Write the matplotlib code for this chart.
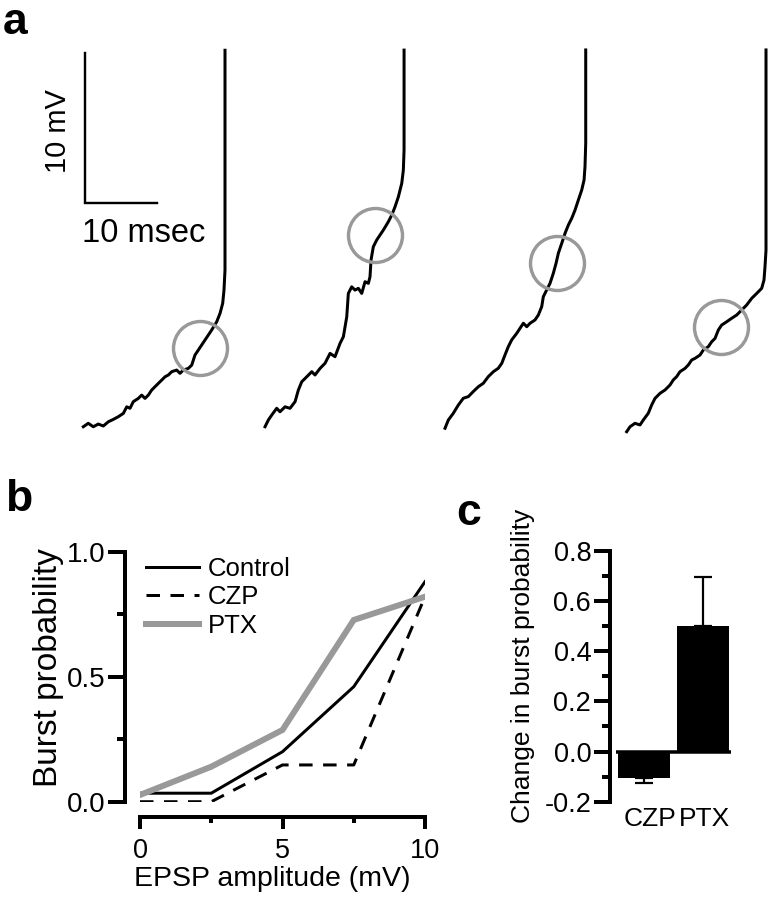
import matplotlib
matplotlib.use("Agg")
import matplotlib.pyplot as plt
import numpy as np

plt.rcParams['font.family'] = ['Liberation Sans', 'DejaVu Sans']

# ---------------- Panel a: voltage traces (time in ms, voltage in mV, relative to trace start)
trace1_t = [0, 0.69, 1.39, 2.08, 2.78, 3.47, 4.17, 4.86, 5.56, 6.03, 6.49, 6.94, 7.64, 8.11, 8.57, 9.03, 9.5,
            9.96, 10.42, 10.89, 11.35, 11.81, 12.28, 12.97, 13.43, 13.89, 14.58, 15.06, 15.51, 15.97, 16.44,
            16.9, 17.36, 17.83, 18.53, 18.99, 19.36, 19.54, 19.68, 19.68]
trace1_v = [0, 0.23, 0, 0.18, 0.05, 0.33, 0.49, 0.67, 0.89, 1.33, 1.23, 1.67, 1.89, 2.11, 1.89, 2.11, 2.45,
            2.67, 2.89, 3.11, 3.33, 3.45, 3.67, 3.78, 3.56, 3.78, 3.89, 4.11, 4.78, 5.11, 5.45,
            5.78, 6.11, 6.45, 7.0, 7.56, 8.23, 9.11, 10.45, 25.1]
trace2_t = [0, 0.46, 0.93, 1.62, 2.08, 2.78, 3.47, 4.17, 4.63, 5.1, 5.79, 6.49, 6.94, 7.64, 8.33, 9.03, 9.72,
            10.42, 10.88, 11.35, 11.57, 12.04, 12.5, 12.96, 13.43, 13.89, 14.35, 14.58, 14.72, 15.04, 15.51,
            15.97, 16.43, 17.13, 17.6, 18.06, 18.52, 18.99, 19.21, 19.31, 19.31]
trace2_v = [0, 0.45, 0.78, 1.23, 1.0, 1.33, 1.23, 1.67, 2.45, 3.0, 3.33, 3.67, 3.45, 3.89, 4.23, 4.89, 4.67,
            5.56, 6.0, 7.33, 8.89, 9.33, 9.11, 9.23, 8.89, 9.67, 9.56, 10.0, 11.11, 12.0, 12.45,
            12.78, 13.11, 13.67, 14.11, 14.67, 15.33, 16.23, 17.11, 18.45, 25.11]
trace3_t = [0, 0.46, 1.15, 1.85, 2.54, 3.24, 3.93, 4.63, 5.32, 6.01, 6.71, 7.40, 7.88, 8.33, 8.79, 9.26, 9.96,
            10.42, 10.88, 11.35, 11.81, 12.5, 12.96, 13.43, 13.65, 14.12, 14.58, 15.04, 15.42, 15.74, 16.21,
            16.67, 17.13, 17.6, 18.06, 18.52, 18.99, 19.31, 19.44, 19.54, 19.54]
trace3_v = [0, 0.55, 1.0, 1.55, 2.0, 2.11, 2.45, 2.77, 3.0, 3.44, 3.77, 4.0, 4.33, 4.89, 5.44, 5.89, 6.33,
            6.67, 7.0, 6.77, 7.0, 7.22, 7.55, 8.11, 8.77, 9.22, 9.66, 10.33, 11.0, 11.67, 12.33,
            13.0, 13.55, 14.0, 14.55, 15.22, 15.89, 16.55, 17.44, 19.0, 25.22]
trace4_t = [0, 0.46, 1.15, 1.85, 2.31, 3.0, 3.47, 3.93, 4.63, 5.32, 6.01, 6.47, 6.94, 7.40, 8.10, 8.56, 9.03,
            9.49, 10.18, 10.65, 11.34, 11.81, 12.27, 12.73, 13.19, 13.89, 14.58, 15.28, 15.97, 16.67, 17.36,
            18.06, 18.75, 19.07, 19.21, 19.35, 19.35]
trace4_v = [0, 0.33, 0.56, 0.45, 0.78, 1.23, 1.78, 2.22, 2.56, 2.78, 3.11, 3.45, 3.67, 4.0, 4.22, 4.45, 4.78,
            4.89, 5.11, 5.45, 5.67, 6.0, 6.22, 6.78, 7.11, 7.33, 7.56, 7.78, 8.11, 8.45, 8.89,
            9.22, 9.56, 10.11, 11.0, 12.11, 25.45]
# EPSP marker (circle) position on each trace, relative to trace start
circle_t = [16.2, 15.28, 15.51, 13.06]
circle_v = [5.23, 12.78, 11.0, 7.0]
scale_v_mV = 10
scale_t_ms = 10

# ---------------- Panel b
epsp_amp = [0, 2.5, 5, 7.5, 10]
control = [0.034, 0.034, 0.20, 0.46, 0.88]
czp = [0.0, 0.0, 0.147, 0.147, 0.82]
ptx = [0.027, 0.14, 0.287, 0.727, 0.82]

# ---------------- Panel c
conditions = ['CZP', 'PTX']
change = [-0.105, 0.50]
change_err = [0.021, 0.195]

fig = plt.figure(figsize=(7.73, 9.0), dpi=100)
PX = 72 / 100.0  # points per pixel

# ---------- Panel a
axa = fig.add_axes([0, 0.5, 1, 0.5])
axa.set_xlim(0, 773 / 7.2)
axa.set_ylim(-30, 0)
axa.axis('off')
offsets_t = [11.57, 36.81, 61.81, 87.04]
offsets_v = [-28.45, -28.45, -28.55, -28.78]
traces = [(trace1_t, trace1_v), (trace2_t, trace2_v), (trace3_t, trace3_v), (trace4_t, trace4_v)]
for i, (tt, vv) in enumerate(traces):
    axa.plot(np.array(tt) + offsets_t[i], np.array(vv) + offsets_v[i], color='black', lw=3.0 * PX,
             solid_joinstyle='round', zorder=2)
    axa.plot(circle_t[i] + offsets_t[i], circle_v[i] + offsets_v[i], marker='o', ms=54 * PX,
             mfc='none', mec='#999999', mew=3.4 * PX, zorder=3)
# scale bar
sb_t0, sb_v0 = 11.8, -13.53
axa.plot([sb_t0, sb_t0, sb_t0 + scale_t_ms], [sb_v0 + scale_v_mV, sb_v0, sb_v0], color='black',
         lw=2.4 * PX, solid_joinstyle='miter')
axa.text(sb_t0 - 3.8, sb_v0 + scale_v_mV / 2 - 0.2, f'{scale_v_mV} mV', rotation=90, ha='center', va='center', fontsize=21)
axa.text(sb_t0 + scale_t_ms / 2 + 3.2, sb_v0 - 2.05, f'{scale_t_ms} msec', ha='center', va='center', fontsize=23.5)

# panel labels
fig.text(0.003, 0.998, 'a', fontsize=32, fontweight='bold', ha='left', va='top')
fig.text(0.006, 0.468, 'b', fontsize=32, fontweight='bold', ha='left', va='top')
fig.text(0.590, 0.452, 'c', fontsize=32, fontweight='bold', ha='left', va='top')

# ---------- Panel b
axb = fig.add_axes([140 / 773, 1 - 801.7 / 900, 285 / 773, 250 / 900])
axb.plot(epsp_amp, control, color='black', lw=3.0 * PX, label='Control', solid_joinstyle='miter')
axb.plot(epsp_amp, czp, color='black', lw=3.0 * PX, ls=(0, (4.5, 3.5)), label='CZP')
axb.plot(epsp_amp, ptx, color='#999999', lw=6.0 * PX, label='PTX', solid_joinstyle='miter')
axb.set_xlim(0, 10)
axb.set_ylim(0, 1)
for s in ['top', 'right']:
    axb.spines[s].set_visible(False)
for s in ['left', 'bottom']:
    axb.spines[s].set_position(('outward', 15 * PX))
    axb.spines[s].set_linewidth(4 * PX)
axb.set_xticks([0, 5, 10])
axb.set_xticks([2.5, 7.5], minor=True)
axb.set_yticks([0, 0.5, 1.0])
axb.set_yticks([0.25, 0.75], minor=True)
axb.set_yticklabels(['0.0', '0.5', '1.0'])
axb.tick_params(axis='y', which='major', length=17 * PX, width=4 * PX, labelsize=20, pad=2)
axb.tick_params(axis='y', which='minor', length=8 * PX, width=4 * PX)
axb.tick_params(axis='x', which='major', length=12 * PX, width=4 * PX, labelsize=19.5, pad=7)
axb.tick_params(axis='x', which='minor', length=6 * PX, width=4 * PX)
axb.set_xlabel('EPSP amplitude (mV)', fontsize=20.5)
axb.xaxis.set_label_coords((272 - 140) / 285, -(866 - 801.7) / 250)
axb.set_ylabel('Burst probability', fontsize=24)
axb.yaxis.set_label_coords((64 - 140) / 285, (801.7 - 668) / 250)
leg = axb.legend(loc='upper left', bbox_to_anchor=(-0.015, 1.02), frameon=False, fontsize=18.5,
                 handlelength=2.05, handletextpad=0.35, labelspacing=0.17, borderaxespad=0)

# ---------- Panel c
axc = fig.add_axes([610 / 773, 1 - 801.7 / 900, 122.8 / 773, 250.7 / 900])
xpos = np.arange(len(conditions))
lower = [change_err[0], 0]
upper = [0, change_err[1]]
axc.bar(xpos, change, width=0.88, color='black', zorder=2)
axc.errorbar(xpos, change, yerr=[lower, upper], fmt='none', ecolor='black', elinewidth=2.2 * PX,
             capsize=9 * PX, capthick=2.2 * PX, zorder=1)
axc.hlines(0, xpos[0] - 0.47, xpos[-1] + 0.47, color='black', lw=3.5 * PX, zorder=3)
axc.set_xlim(-0.57, 1.5)
axc.set_ylim(-0.2, 0.8)
for s in ['top', 'right', 'bottom']:
    axc.spines[s].set_visible(False)
axc.spines['left'].set_linewidth(4 * PX)
major_c = np.round(np.arange(-0.2, 0.81, 0.2), 1)
axc.set_yticks(major_c)
axc.set_yticks(np.round(np.arange(-0.1, 0.8, 0.2), 1), minor=True)
axc.set_yticklabels([f'{v:.1f}' for v in major_c])
axc.tick_params(axis='y', which='major', length=16 * PX, width=4 * PX, labelsize=19.5, pad=2)
axc.tick_params(axis='y', which='minor', length=8 * PX, width=4 * PX)
axc.set_xticks(xpos + np.array([0.1, 0.03]))
axc.set_xticklabels(conditions, fontsize=19)
axc.tick_params(axis='x', length=0, pad=4)
axc.set_ylabel('Change in burst probability', fontsize=19)
axc.yaxis.set_label_coords((535 - 610) / 122.8, (801.7 - 666) / 250.7)

fig.savefig('out.png', dpi=100)
